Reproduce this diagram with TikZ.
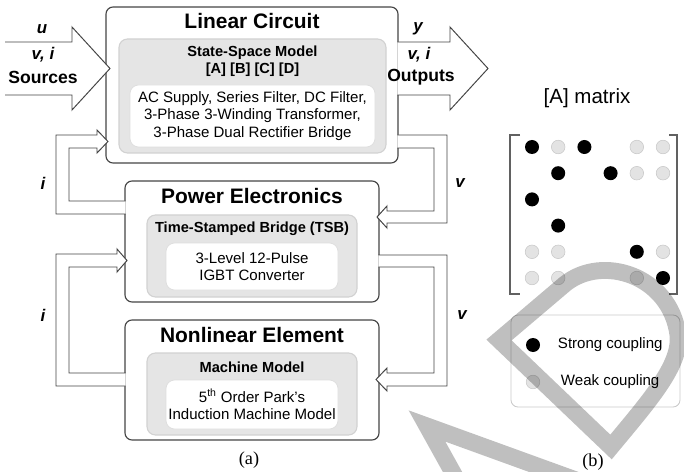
\documentclass[tikz,border=0pt]{standalone}
\usepackage{fontspec}
\setmainfont{Liberation Sans}
\newfontfamily\capfont{Liberation Serif}
\usepackage{tikz}
\usetikzlibrary{calc}
\definecolor{linec}{HTML}{454545}
\definecolor{panelf}{HTML}{E5E5E5}
\definecolor{paneld}{HTML}{D2D2D2}
\definecolor{weakf}{HTML}{E3E3E3}
\definecolor{weakd}{HTML}{C9C9C9}
\newcommand{\pxu}{0.025cm}
\tikzset{
  blk/.style={draw=linec,line width=0.8pt,rounded corners=5pt,fill=white,inner sep=0pt,outer sep=0pt},
  panel/.style={draw=paneld,line width=0.8pt,rounded corners=6pt,fill=panelf,inner sep=0pt,outer sep=0pt},
  inbox/.style={draw=paneld!70,line width=0.6pt,rounded corners=6pt,fill=white,inner sep=0pt,align=center,font=\fontsize{10.7}{12.6}\selectfont},
  ttl/.style={font=\fontsize{14.9}{17}\selectfont\bfseries},
  sub/.style={font=\fontsize{10.4}{12.2}\selectfont\bfseries,align=center},
  lbl/.style={font=\fontsize{12}{14}\selectfont\bfseries\itshape},
  big/.style={font=\fontsize{12.5}{14}\selectfont\bfseries},
  hollow/.style={draw=linec,line width=0.7pt,fill=white,line join=miter},
  weak/.style={fill=weakf,draw=weakd,line width=0.4pt},
  wmark/.style={black,opacity=0.25,line width=12pt,line join=miter}
}

\begin{document}
\begin{tikzpicture}[x=0.025cm,y=-0.025cm]
\useasboundingbox (0,0) rectangle (684,472);
% linear circuit
\node[blk,minimum width={292*\pxu},minimum height={156*\pxu}] (lc) at (252,85) {};
\node[panel,minimum width={267*\pxu},minimum height={114*\pxu}] (lcp) at (252.5,96) {};
\node[inbox,minimum width={245*\pxu},minimum height={62*\pxu}] (lcm) at (252.5,116) {AC Supply, Series Filter, DC Filter,\\3-Phase 3-Winding Transformer,\\3-Phase Dual Rectifier Bridge};
\node[ttl] (lct) at (252,21) {Linear Circuit};
\node[sub] (lcs) at (252.5,61.5) {State-Space Model\\{}[A] [B] [C] [D]};
% power electronics
\node[blk,minimum width={254*\pxu},minimum height={121*\pxu}] (pe) at (252,241.5) {};
\node[panel,minimum width={210*\pxu},minimum height={82*\pxu}] (pep) at (252,256) {};
\node[inbox,minimum width={172*\pxu},minimum height={47*\pxu}] (pem) at (252,266.5) {3-Level 12-Pulse\\IGBT Converter};
\node[ttl] (pet) at (252,196) {Power Electronics};
\node[sub] (pes) at (252,229) {Time-Stamped Bridge (TSB)};
% nonlinear element
\node[blk,minimum width={254*\pxu},minimum height={120*\pxu}] (ne) at (252,380) {};
\node[panel,minimum width={210*\pxu},minimum height={82*\pxu}] (nep) at (252,394) {};
\node[inbox,minimum width={172*\pxu},minimum height={49*\pxu}] (nem) at (252,404.5) {5\textsuperscript{th} Order Park's\\Induction Machine Model};
\node[ttl] (net) at (252,335) {Nonlinear Element};
\node[sub] (nes) at (252,367) {Machine Model};

% inputs and outputs
\draw[hollow] (5,42) -- (72,42) -- (72,27) -- ($(lc.west |- 0,68.5)+(4,0)$) -- (72,110) -- (72,95) -- (5,95);
\draw[hollow] ($(lc.east |- 0,42)+(-0.6,0)$) -- (450,42) -- (450,27) -- (488,68.5) -- (450,110) -- (450,95) -- ($(lc.east |- 0,95)+(-0.6,0)$);
% v loops
\draw[hollow] ($(lc.east |- 0,135)+(-0.6,0)$) -- (447,135) -- (447,223) -- (387,223) -- (387,228) -- ($(pe.east |- 0,217)+(-2,0)$) -- (387,206) -- (387,211) -- (434,211) -- (434,148) -- ($(lc.east |- 0,148)+(-0.6,0)$);
\draw[hollow] ($(pe.east |- 0,255)+(-0.6,0)$) -- (447,255) -- (447,386) -- (387,386) -- (387,391) -- ($(ne.east |- 0,379.5)+(-3,0)$) -- (387,368) -- (387,373) -- (434,373) -- (434,267) -- ($(pe.east |- 0,267)+(-0.6,0)$);
% i loops
\draw[hollow] ($(pe.west |- 0,201)+(0.6,0)$) -- (69,201) -- (69,148) -- (97,148) -- (97,153) -- ($(lc.west |- 0,141.5)+(2,0)$) -- (97,130) -- (97,135) -- (56,135) -- (56,214) -- ($(pe.west |- 0,214)+(0.6,0)$);
\draw[hollow] ($(ne.west |- 0,373)+(0.6,0)$) -- (69,373) -- (69,267) -- (117,267) -- (117,272) -- ($(pe.west |- 0,260.5)+(2,0)$) -- (117,249) -- (117,254) -- (56,254) -- (56,386) -- ($(ne.west |- 0,386)+(0.6,0)$);

\node[lbl] (lu) at (42,29) {u};
\node[lbl] (lvi) at (43,55) {v, i};
\node[big] (lsrc) at (43,77) {Sources};
\node[lbl] (ly) at (418,29) {y};
\node[lbl] (lvo) at (419,55) {v, i};
\node[big] (lout) at (421,77) {Outputs};
\node[lbl] (li1) at (43,183) {i};
\node[lbl] (lv1) at (460,183) {v};
\node[lbl] (li2) at (43,315) {i};
\node[lbl] (lv2) at (462,315) {v};
\node[font=\capfont\fontsize{13}{15}\selectfont] (capa) at (249,460) {(a)};

% [A] matrix
\node[font=\fontsize{14.6}{17}\selectfont] (amat) at (587,98) {[A] matrix};
\draw[linec!85,line width=0.8pt] (520,135) -- (510,135) -- (510,294) -- (520,294);
\draw[linec!85,line width=0.8pt] (669,135) -- (677,135) -- (677,294) -- (669,294);
\foreach \c/\r in {1/1,3/1,2/2,4/2,1/3,2/4,5/5,6/6}
  \fill[black] ({532+(\c-1)*26.2},{147+(\r-1)*26.2}) circle[radius=0.175cm];
\foreach \c/\r in {2/1,5/1,6/1,5/2,6/2,1/5,2/5,6/5,1/6,2/6,5/6}
  \filldraw[weak] ({532+(\c-1)*26.2},{147+(\r-1)*26.2}) circle[radius=0.17cm];
% legend
\node[draw=weakd,line width=0.6pt,rounded corners=5pt,minimum width={169*\pxu},minimum height={92*\pxu},inner sep=0pt] (leg) at (595.5,361) {};
\fill[black] (533,345) circle[radius=0.175cm];
\filldraw[weak] (533,382) circle[radius=0.17cm];
\node[anchor=west,font=\fontsize{10.7}{12}\selectfont] (lstr) at (553,345) {Strong coupling};
\node[anchor=west,font=\fontsize{10.7}{12}\selectfont] (lwk) at (556,382) {Weak coupling};
\node[font=\capfont\fontsize{13}{15}\selectfont] (capb) at (593,462) {(b)};

% overlay mark
\begin{scope}
\clip (0,0) rectangle (684,472);
\draw[wmark] (457,480) -- (427,426) -- (587,484);
\draw[wmark] (611,447) -- (499,340) -- (565,284) .. controls (602,254) and (670,275) .. (678,335) .. controls (681,365) and (650,400) .. (611,447) -- cycle;
\end{scope}
\end{tikzpicture}
\end{document}
